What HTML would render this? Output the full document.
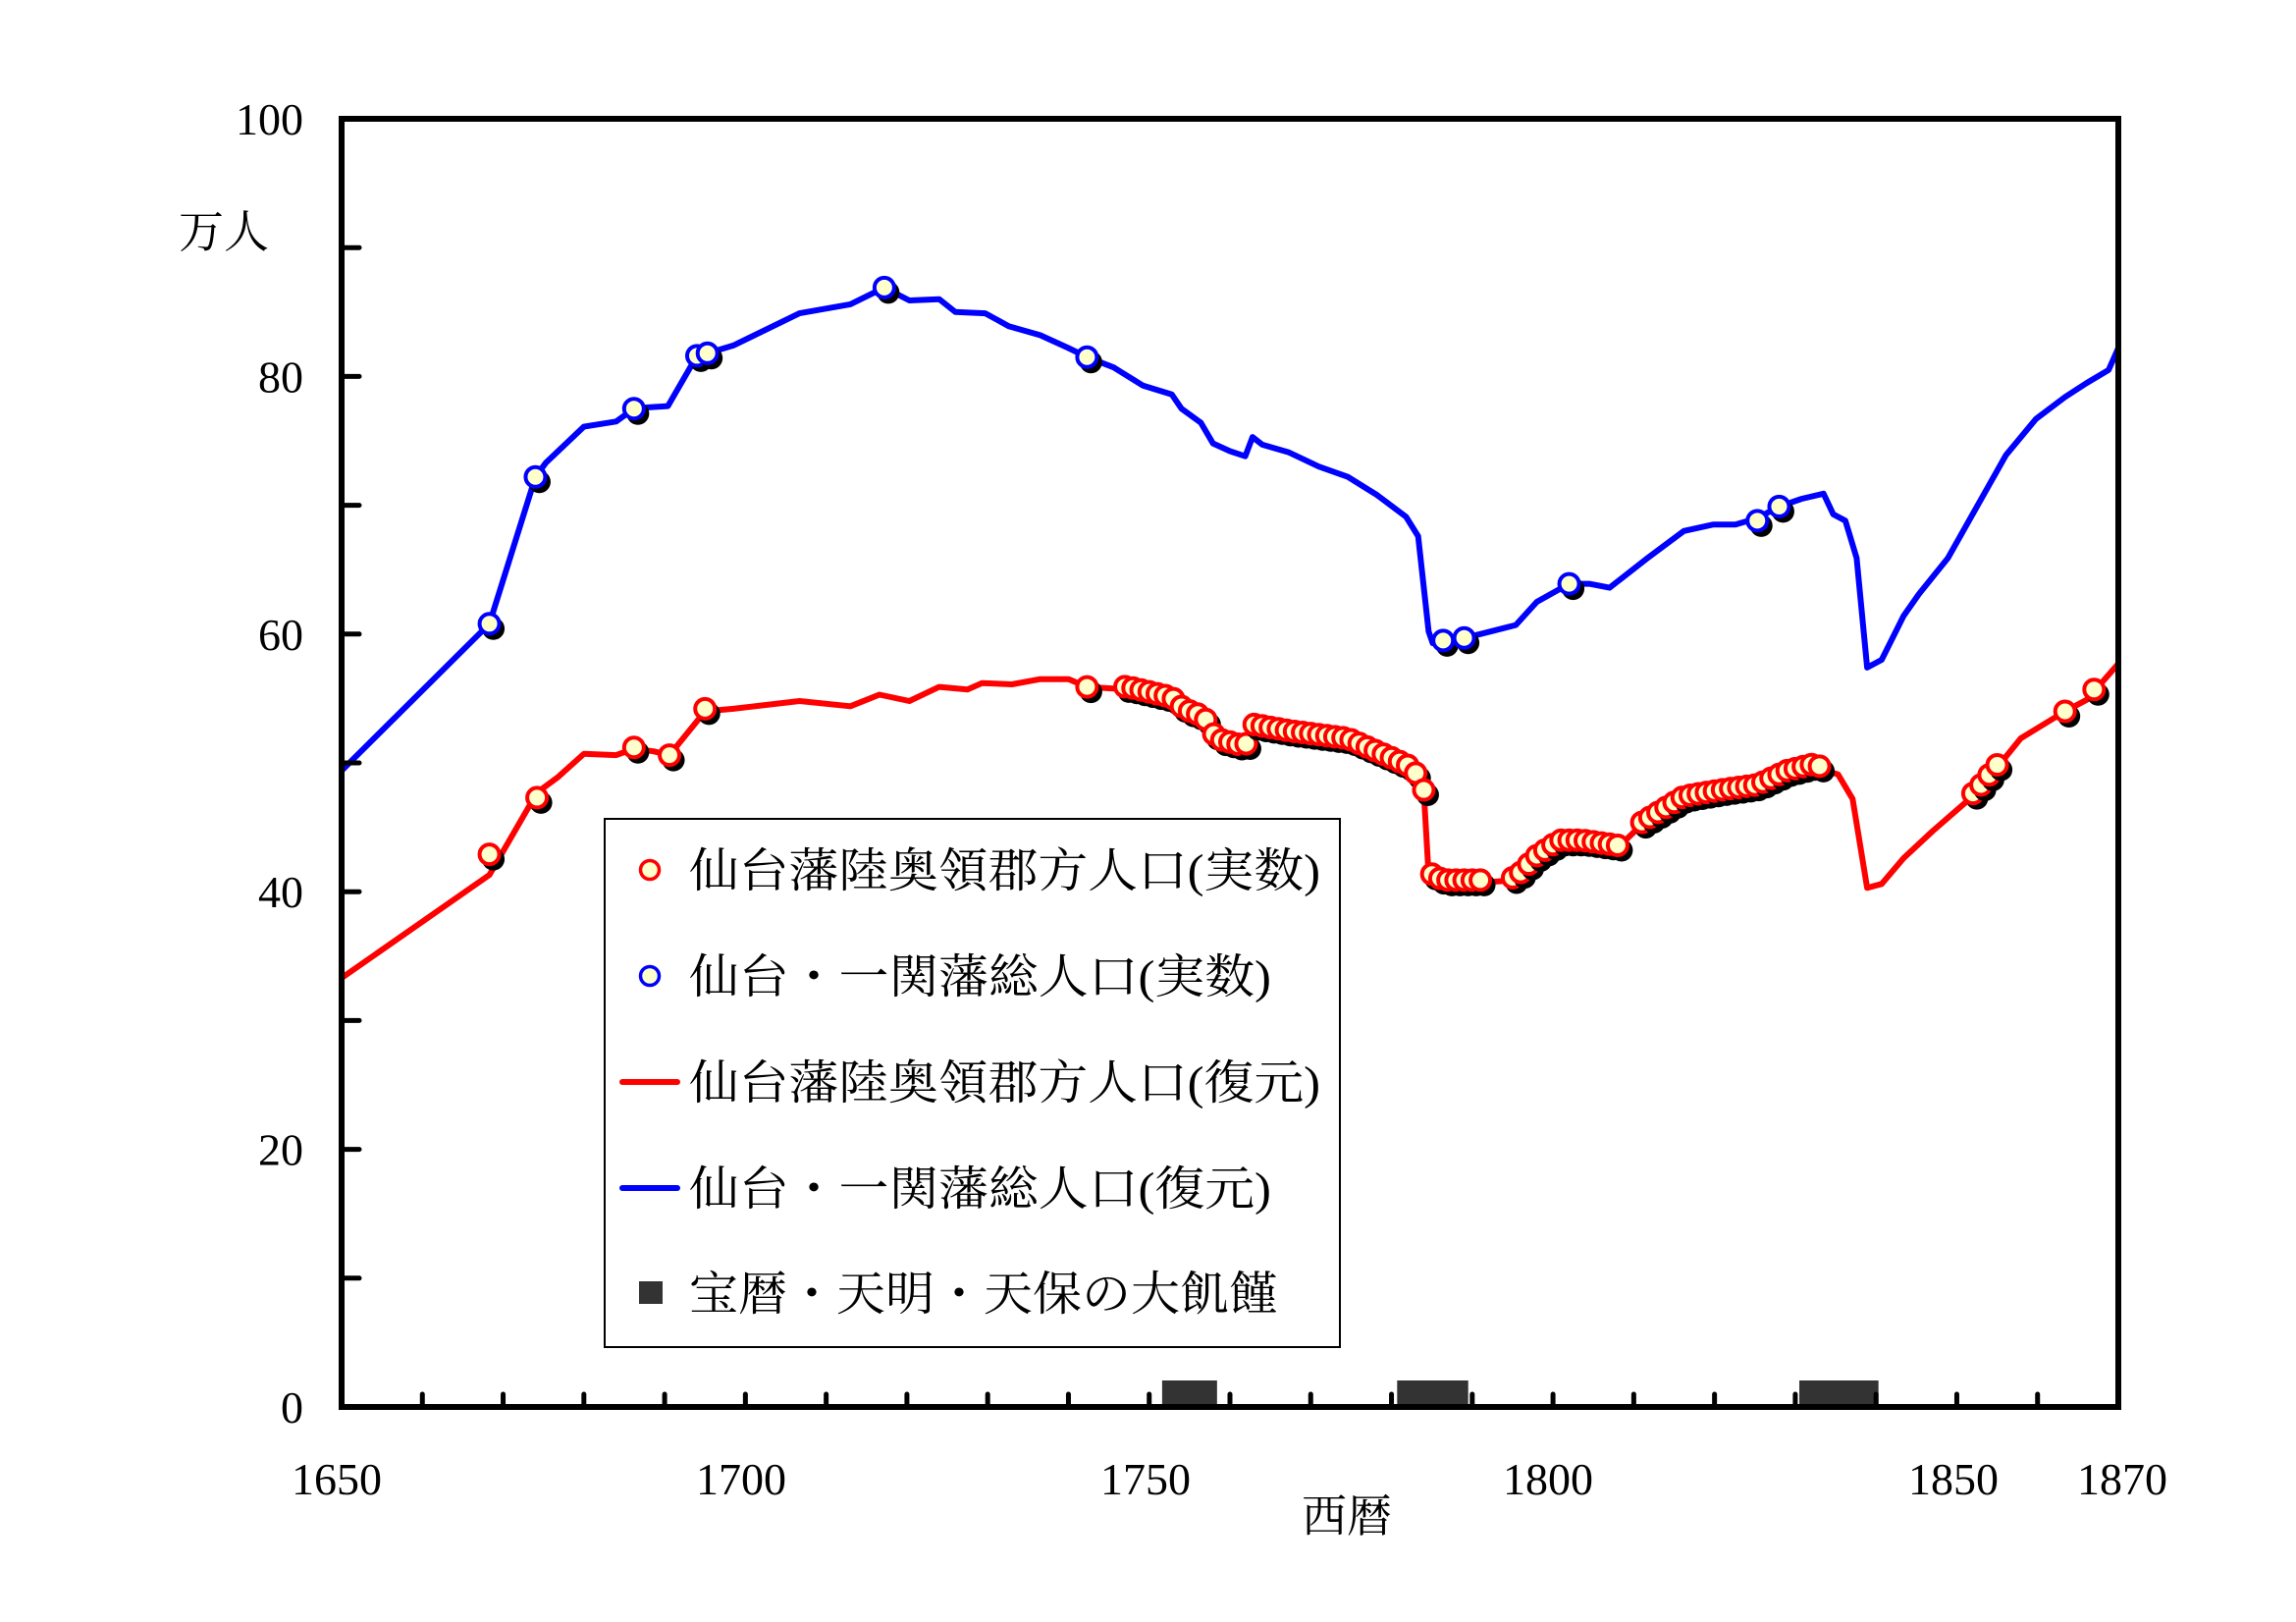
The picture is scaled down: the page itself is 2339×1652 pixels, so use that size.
<!DOCTYPE html>
<html><head><meta charset="utf-8">
<style>
html,body{margin:0;padding:0;background:#fff;}
svg{display:block;}
text{font-family:"Liberation Serif","Noto Serif CJK SC","Noto Sans CJK JP",serif;fill:#000;}
</style></head>
<body>
<svg id="c" xmlns="http://www.w3.org/2000/svg" width="2339" height="1652" viewBox="0 0 2339 1652">
<rect width="2339" height="1652" fill="#fff"/>
<g id="bars" fill="#333"></g>
<g id="lines"></g>
<g id="marks"></g>
<g id="axes"></g>
<!-- legend -->
<rect x="616" y="834" width="749" height="538" fill="#fff" stroke="#000" stroke-width="2"/>
<circle cx="662" cy="886" r="9.5" fill="#ffffcc" stroke="#f00" stroke-width="3.5"/>
<circle cx="662" cy="994" r="9.5" fill="#ffffcc" stroke="#00f" stroke-width="3.5"/>
<line x1="634" y1="1102" x2="690" y2="1102" stroke="#f00" stroke-width="6" stroke-linecap="round"/>
<line x1="634" y1="1210" x2="690" y2="1210" stroke="#00f" stroke-width="6" stroke-linecap="round"/>
<rect x="651" y="1305" width="24" height="23" fill="#333"/>
<g font-size="48">
<text x="702" y="903" textLength="643" lengthAdjust="spacingAndGlyphs">仙台藩陸奥領郡方人口(実数)</text>
<text x="702" y="1011" textLength="593" lengthAdjust="spacingAndGlyphs">仙台・一関藩総人口(実数)</text>
<text x="702" y="1119" textLength="643" lengthAdjust="spacingAndGlyphs">仙台藩陸奥領郡方人口(復元)</text>
<text x="702" y="1227" textLength="593" lengthAdjust="spacingAndGlyphs">仙台・一関藩総人口(復元)</text>
<text x="702" y="1334" textLength="600" lengthAdjust="spacingAndGlyphs">宝暦・天明・天保の大飢饉</text>
</g>
<text x="228" y="252" font-size="46" text-anchor="middle">万人</text>
<text x="1372" y="1560" font-size="46" text-anchor="middle">西暦</text>
</svg>
<script>
var NS="http://www.w3.org/2000/svg";
function X(y){return 348+(y-1650)*1810/220;}
function Y(v){return 1433-v*13.12;}
function el(p,t,a){var e=document.createElementNS(NS,t);for(var k in a)e.setAttribute(k,a[k]);document.getElementById(p).appendChild(e);return e;}
var blue=[[1650,49.4],[1668.3,60.8],[1674,72.2],[1675.3,73.3],[1680,76.1],[1684,76.5],[1686.2,77.5],[1688,77.6],[1690.4,77.7],[1694,81.6],[1695.3,81.8],[1698.5,82.4],[1706.7,84.9],[1713,85.6],[1717.2,86.9],[1720.3,85.9],[1724,86],[1726,85],[1729.7,84.9],[1732.6,83.9],[1736.5,83.2],[1740,82.2],[1742.3,81.5],[1745.6,80.7],[1749.2,79.3],[1752.8,78.6],[1754,77.5],[1756.4,76.4],[1757.9,74.8],[1760,74.2],[1761.9,73.8],[1762.8,75.3],[1764,74.7],[1767.3,74.1],[1771,73],[1774.6,72.2],[1778.2,70.8],[1781.8,69.1],[1783.3,67.6],[1784.6,60.2],[1785.1,59.3],[1786.4,59.4],[1789,59.7],[1791,60],[1795.4,60.7],[1798,62.5],[1802,63.9],[1804.5,63.9],[1807,63.6],[1811.7,65.9],[1816.2,68],[1819.8,68.5],[1822.6,68.5],[1825.3,69],[1828,69.9],[1830.8,70.5],[1833.5,70.9],[1834.7,69.3],[1836.2,68.8],[1837.6,65.9],[1838.9,57.4],[1840.7,58],[1843.4,61.4],[1845.3,63.1],[1848.9,65.9],[1852.5,69.9],[1856.1,73.9],[1859.8,76.7],[1863.4,78.4],[1866.1,79.5],[1868.8,80.5],[1870,82.2]];
var red=[[1650,33.3],[1668.3,41.3],[1674.2,47.7],[1676.8,48.9],[1680,50.7],[1684,50.6],[1686.2,51.1],[1688.6,50.9],[1690.6,50.6],[1695,54],[1698.5,54.2],[1706.7,54.8],[1713,54.4],[1716.6,55.3],[1720.3,54.8],[1724,55.9],[1727.5,55.7],[1729.3,56.2],[1733,56.1],[1736.5,56.5],[1740,56.5],[1742.3,55.9],[1747.4,55.7],[1752.8,54.9],[1754.3,54],[1756.8,53.4],[1758.3,51.7],[1761.9,51.1],[1762.8,52.8],[1767.3,52.3],[1774.6,51.7],[1780,50.2],[1782.7,49.4],[1784,47.7],[1784.6,41.3],[1786.4,40.7],[1791,40.7],[1795.4,40.9],[1798,42.6],[1800.8,43.8],[1803.6,43.8],[1808,43.4],[1810.8,45.1],[1816.2,47.2],[1820.8,47.7],[1825.3,48.1],[1829,49.2],[1832.2,49.7],[1835.3,49.1],[1837.1,47.2],[1838.9,40.3],[1840.7,40.6],[1843.4,42.6],[1847,44.7],[1852.5,47.7],[1857.9,51.9],[1863.4,54],[1866.1,54.9],[1870,57.7]];
function pts(a){return a.map(function(p){return X(p[0]).toFixed(1)+","+Y(p[1]).toFixed(1);}).join(" ");}
function interp(a,yr){for(var i=1;i<a.length;i++){if(a[i][0]>=yr){var t=(yr-a[i-1][0])/(a[i][0]-a[i-1][0]||1);return a[i-1][1]+t*(a[i][1]-a[i-1][1]);}}return a[a.length-1][1];}
// famine bars
[[1751.6,1758.4],[1780.7,1789.5],[1830.5,1840.3]].forEach(function(b){el("bars","rect",{x:X(b[0]),y:1406,width:X(b[1])-X(b[0]),height:25});});
el("lines","polyline",{points:pts(red),fill:"none",stroke:"#f00","stroke-width":6,"stroke-linejoin":"round"});
el("lines","polyline",{points:pts(blue),fill:"none",stroke:"#00f","stroke-width":6,"stroke-linejoin":"round"});
function mark(yr,v,col){var x=X(yr),y=Y(v);el("marks","circle",{cx:x+4,cy:y+5,r:11.5,fill:"#000"});el("marks","circle",{cx:x,cy:y,r:10,fill:"#ffffcc",stroke:col,"stroke-width":4});}
var rm=[[1668.3,42.9],[1674.2,47.3],[1686.2,51.2],[1690.6,50.6],[1695,54.2],[1742.3,55.9]];
var ranges=[[1747,1758],[1759,1764],[1764,1784],[1785,1791],[1795,1808],[1811,1833],[1852,1855]];
ranges.forEach(function(r){for(var y=r[0];y<=r[1];y++)rm.push([y,interp(red,y)+0.2]);});
rm.push([1863.4,54]);rm.push([1867,55.7]);
rm.forEach(function(p){mark(p[0],p[1],"#f00");});
[[1668.3,60.8],[1674,72.2],[1686.2,77.5],[1694,81.6],[1695.3,81.8],[1717.2,86.9],[1742.3,81.5],[1786.4,59.5],[1789,59.7],[1802,63.9],[1825.3,68.8],[1828,69.9]].forEach(function(p){mark(p[0],p[1],"#00f");});
// axes
el("axes","rect",{x:348,y:121,width:1810,height:1312,fill:"none",stroke:"#000","stroke-width":6});
for(var v=10;v<100;v+=10){el("axes","line",{x1:348,y1:Y(v),x2:366,y2:Y(v),stroke:"#000","stroke-width":5,"stroke-linecap":"round"});}
for(var yr=1660;yr<1870;yr+=10){el("axes","line",{x1:X(yr),y1:1433,x2:X(yr),y2:1420,stroke:"#000","stroke-width":5,"stroke-linecap":"round"});}
[0,20,40,60,80,100].forEach(function(v){var t=el("axes","text",{x:309,y:Y(v)+16,"font-size":46,"text-anchor":"end"});t.textContent=v;});
[[1650,343],[1700,755],[1750,1167],[1800,1577],[1850,1990],[1870,2162]].forEach(function(p){var t=el("axes","text",{x:p[1],y:1522,"font-size":46,"text-anchor":"middle"});t.textContent=p[0];});
</script>
</body></html>
